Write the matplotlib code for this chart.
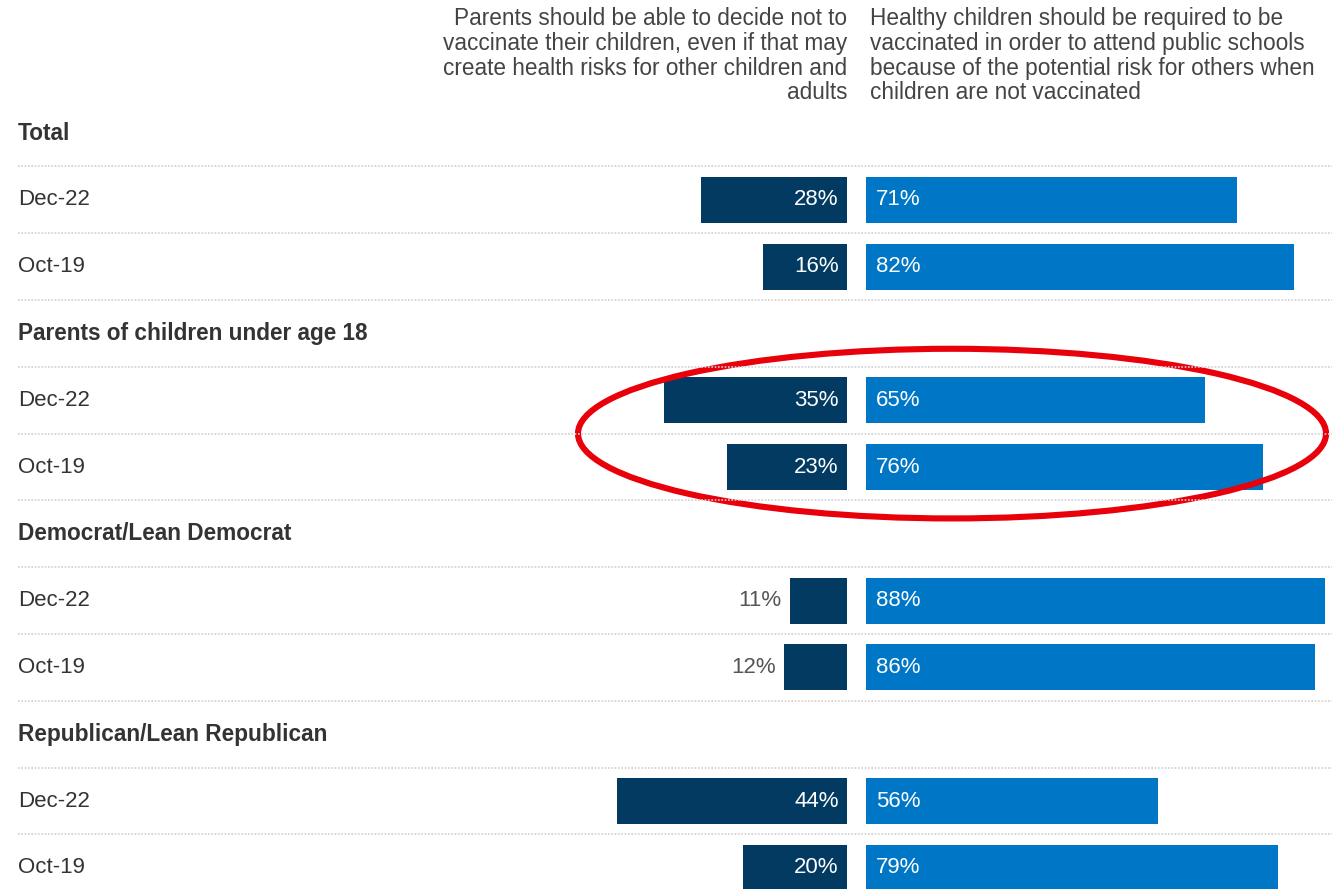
import matplotlib
matplotlib.use("Agg")
import matplotlib.pyplot as plt
from matplotlib.patches import Ellipse

plt.rcParams['font.family'] = ['Liberation Sans', 'DejaVu Sans']

# ---- data ----
groups = ["Total", "Parents of children under age 18",
          "Democrat/Lean Democrat", "Republican/Lean Republican"]
periods = ["Dec-22", "Oct-19"]
decide_not = [[28, 16], [35, 23], [11, 12], [44, 20]]   # Parents should be able to decide not to vaccinate
required = [[71, 82], [65, 76], [88, 86], [56, 79]]     # Healthy children should be required to be vaccinated
left_header = ("Parents should be able to decide not to\n"
               "vaccinate their children, even if that may\n"
               "create health risks for other children and\n"
               "adults")
right_header = ("Healthy children should be required to be\n"
                "vaccinated in order to attend public schools\n"
                "because of the potential risk for others when\n"
                "children are not vaccinated")

DARK = "#023a62"
LIGHT = "#0076c6"
TXT = "#333333"

W, H = 1340, 889
fig = plt.figure(figsize=(W / 100, H / 100), dpi=100)
ax = fig.add_axes([0, 0, 1, 1])
ax.axis("off")

px_per_pct = 5.22
center_px = 856.5
row_px = 66.8
row0_px = 133
ax.set_xlim(-center_px / px_per_pct, (W - center_px) / px_per_pct)
ax.set_ylim((H - row0_px) / row_px, (0 - row0_px) / row_px)
gap = 19 / px_per_pct
xlabel_left = (18 - center_px) / px_per_pct

row = 0
bar_h = 0.69
for g, name in enumerate(groups):
    ax.text(xlabel_left, row, name, ha="left", va="center", fontsize=16.3,
            fontweight="bold", color=TXT)
    row += 1
    for p, per in enumerate(periods):
        ax.text(xlabel_left, row, per, ha="left", va="center", fontsize=16,
                color=TXT)
        lv = decide_not[g][p]
        rv = required[g][p]
        ax.barh(row, -lv, left=-gap / 2, height=bar_h, color=DARK)
        ax.barh(row, rv, left=gap / 2, height=bar_h, color=LIGHT)
        if lv >= 15:
            ax.text(-gap / 2 - 1.6, row, f"{lv}%", ha="right", va="center",
                    fontsize=16, color="white")
        else:
            ax.text(-gap / 2 - lv - 1.6, row, f"{lv}%", ha="right", va="center",
                    fontsize=16, color="#555555")
        ax.text(gap / 2 + 1.9, row, f"{rv}%", ha="left", va="center",
                fontsize=16, color="white")
        row += 1

# dotted separators
x0 = (18 - center_px) / px_per_pct
x1 = (1332 - center_px) / px_per_pct
for k in range(row - 1):
    ax.plot([x0, x1], [k + 0.5, k + 0.5], color="#d0d0d0", lw=1.2,
            ls=(0, (1, 1)))

# headers
top_y = (7 - row0_px) / row_px
ax.text(-gap / 2, top_y, left_header, ha="right", va="top", fontsize=16.3,
        color="#444444", linespacing=1.1)
ax.text(gap / 2 + 4 / px_per_pct, top_y, right_header, ha="left", va="top",
        fontsize=16.3, color="#444444", linespacing=1.1)

# red ellipse around parents rows
ell = Ellipse((18.3, 4.5), width=143.3, height=2.54, fill=False,
              edgecolor="#e8000b", lw=4.4)
ax.add_patch(ell)

fig.savefig("out.png", dpi=100, facecolor="white")
